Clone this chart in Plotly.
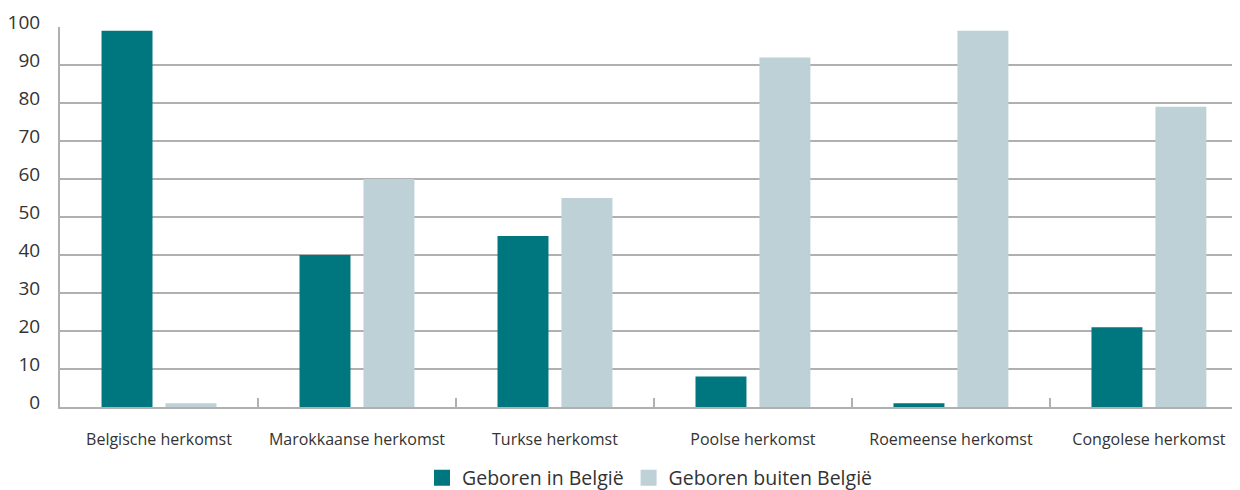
import plotly.graph_objects as go

categories = ["Belgische herkomst", "Marokkaanse herkomst", "Turkse herkomst",
              "Poolse herkomst", "Roemeense herkomst", "Congolese herkomst"]
series_names = ["Geboren in België", "Geboren buiten België"]
born_in_belgium = [99, 40, 45, 8, 1, 21]
born_abroad = [1, 60, 55, 92, 99, 79]
y_ticks = [0, 10, 20, 30, 40, 50, 60, 70, 80, 90, 100]

colors = ["#00767f", "#bdd1d7"]
font = "Open Sans, Noto Sans, sans-serif"

fig = go.Figure()
for name, vals, col in zip(series_names, [born_in_belgium, born_abroad], colors):
    fig.add_trace(go.Bar(x=categories, y=vals, name=name, showlegend=False,
                         marker=dict(color=col, line=dict(width=0))))
# legend entries with bigger square swatches
for name, col in zip(series_names, colors):
    fig.add_trace(go.Scatter(x=[None], y=[None], mode="markers", name=name,
                             marker=dict(symbol="square", size=17, color=col)))

# page body has an 8px margin, so the figure is made 8px smaller
fig.update_layout(
    width=1232, height=482,
    margin=dict(l=52, r=0, t=19, b=83, autoexpand=False),
    paper_bgcolor="white", plot_bgcolor="white",
    barmode="group", bargap=0.354, bargroupgap=0.203,
    font=dict(family=font, color="#333333"),
    legend=dict(orientation="h", x=0.5, xanchor="center",
                yref="container", y=12 / 482, yanchor="middle",
                font=dict(size=19.5, color="#333333"), itemwidth=30,
                traceorder="normal"),
)
fig.update_xaxes(
    range=[-0.5, 5.46], showline=True, linecolor="#b0b0b0", linewidth=2,
    tickson="boundaries", ticks="inside", ticklen=9, tickcolor="#b0b0b0", tickwidth=1.5,
    tickfont=dict(size=16, color="#333333"), ticklabelstandoff=17,
    showgrid=False, automargin=False,
)
fig.update_yaxes(
    range=[0, 100], tickvals=y_ticks, showline=True, linecolor="#b0b0b0", linewidth=2,
    gridcolor="#b0b0b0", gridwidth=1.5, zeroline=False, automargin=False,
    tickfont=dict(size=19, color="#333333"), ticklabelstandoff=14, ticklabelshift=-5,
)

fig.write_html("out.html")
